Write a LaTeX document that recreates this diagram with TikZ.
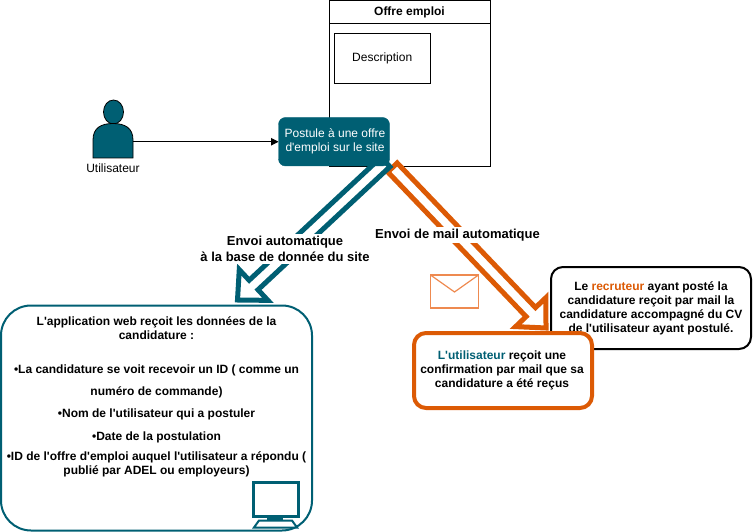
\documentclass[tikz,border=0pt]{standalone}
\usepackage{fontspec}
\setmainfont{Liberation Sans}[Ligatures=TeXOff]
\usetikzlibrary{calc,positioning,arrows.meta}
\definecolor{tealc}{HTML}{005F73}
\definecolor{orangec}{HTML}{DC5A05}
\definecolor{mailc}{HTML}{EE8A50}
\tikzstyle{every node}=[outer sep=0pt]
\tikzset{>={Triangle[width=2.6mm,length=2.6mm]}}
\tikzset{hollowarrow/.style={line width=5pt, fill=white, to path={
  ($(\tikztostart)!6.5pt!90:(\tikztotarget)$)
  -- ($($(\tikztotarget)!22pt!(\tikztostart)$)!6.5pt!90:(\tikztotarget)$)
  -- ($($(\tikztotarget)!22pt!(\tikztostart)$)!21pt!90:(\tikztotarget)$)
  -- (\tikztotarget)
  -- ($($(\tikztotarget)!22pt!(\tikztostart)$)!21pt!-90:(\tikztotarget)$)
  -- ($($(\tikztotarget)!22pt!(\tikztostart)$)!6.5pt!-90:(\tikztotarget)$)
  -- ($(\tikztostart)!6.5pt!-90:(\tikztotarget)$)
  -- cycle}}}
\begin{document}
\begin{tikzpicture}[x=1pt,y=-1pt]
  \tikzstyle{txt} = [font=\fontsize{12}{14}\selectfont, align=center, inner sep=0pt]
  \tikzstyle{btxt} = [font=\fontsize{12}{14}\selectfont\bfseries, align=center, inner sep=0pt]
  \tikzstyle{ltxt} = [font=\fontsize{13}{16}\selectfont\bfseries, align=center, inner xsep=0pt, inner ysep=2pt, fill=white]
  \tikzstyle{wbox} = [draw, fill=white, rounded corners=12pt, anchor=north west, inner sep=0pt]
  \useasboundingbox (0,0) rectangle (753,532);

  \node[draw, fill=white, anchor=north west, minimum width=161pt, minimum height=166pt, inner sep=0pt] (offer) at (329.5,0.5) {};
  \draw (offer.west |- 0,23.5) coordinate (headl) -- (offer.east |- headl);
  \node[btxt] (offertitle) at (409.5,12) {Offre emploi};
  \node[draw, txt, anchor=north west, minimum width=96.5pt, minimum height=50pt] (descr) at (334,33.5) {Description};

  \node[anchor=north west, minimum width=40pt, minimum height=58pt, inner sep=0pt] (actor) at (93,100) {};
  \draw[fill=tealc, line width=0.8pt] (113.5,112) ellipse [x radius=10pt, y radius=12pt];
  \draw[fill=tealc, line width=0.8pt] (93,158) -- (93,140) .. controls (93,128) and (101,123.5) .. (113,123.5)
    .. controls (125,123.5) and (133,128) .. (133,140) -- (133,158) -- cycle;
  \node[txt, below=6pt of actor] (actorlabel) {Utilisateur};

  \node[wbox, line width=2pt, draw=black, minimum width=200pt, minimum height=82pt] (recruit) at (551,267) {};
  \node[btxt] (recruittext) at (651,308.5) {Le \textcolor{orangec}{recruteur} ayant posté la\\candidature reçoit par mail la\\candidature accompagné du CV\\de l'utilisateur ayant postulé.};

  \coordinate (orangetail) at (392.5,167.5);
  \coordinate (orangetip) at (546,328);
  \draw[hollowarrow, draw=orangec] (orangetail) to (orangetip);

  \coordinate (bluetail) at (385.5,162);
  \coordinate (bluetip) at (237.5,300);
  \draw[hollowarrow, draw=tealc] (bluetail) to (bluetip);

  \node[draw=tealc, fill=tealc, rounded corners=7pt, anchor=north west, minimum width=111pt, minimum height=48.5pt, inner sep=0pt] (post) at (278.5,117.5) {};
  \node[txt, text=white] (posttext) at (335,141.5) {Postule à une offre\\d'emploi sur le site};
  \draw[->, line width=1pt] (actor.east |- post.west) -- (post.west);

  \node[ltxt] (autolabel) at (285,249) {Envoi automatique\\à la base de donnée du site};
  \node[ltxt] (maillabel) at (457.5,235) {Envoi de mail automatique};

  \node[draw=mailc, line width=1.5pt, anchor=north west, minimum width=48pt, minimum height=33pt, inner sep=0pt] (mail) at (430.5,275) {};
  \draw[mailc, line width=1.2pt] (mail.north west) -- (454.5,292) -- (mail.north east);

  \node[wbox, draw=orangec, line width=4pt, minimum width=178pt, minimum height=75pt] (confirm) at (414,333) {};
  \node[btxt] (confirmtext) at (502,370) {\textcolor{tealc}{L'utilisateur} reçoit une\\confirmation par mail que sa\\candidature a été reçus};

  \node[draw=tealc, fill=white, line width=2pt, rounded corners=30pt, anchor=north west, minimum width=311pt, minimum height=225pt, inner sep=0pt] (web) at (1,305.5) {};
  \node[btxt] (webtext) at (156.5,397) {L'application web reçoit les données de la\\candidature :\\[20pt]•La candidature se voit recevoir un ID ( comme un\\[8pt]numéro de commande)\\[8pt]•Nom de l'utilisateur qui a postuler\\[9pt]•Date de la postulation\\[6pt]•ID de l'offre d'emploi auquel l'utilisateur a répondu (\\publié par ADEL ou employeurs)};

  \node[draw=tealc, fill=white, line width=3pt, anchor=north west, minimum width=45pt, minimum height=34.5pt, inner sep=0pt] (screen) at (253,482) {};
  \fill[tealc] (267,516) rectangle (283,521);
  \draw[tealc, fill=white, line width=2pt] (259,520.5) -- (292,520.5) -- (297,527.5) -- (254,527.5) -- cycle;
\end{tikzpicture}
\end{document}
